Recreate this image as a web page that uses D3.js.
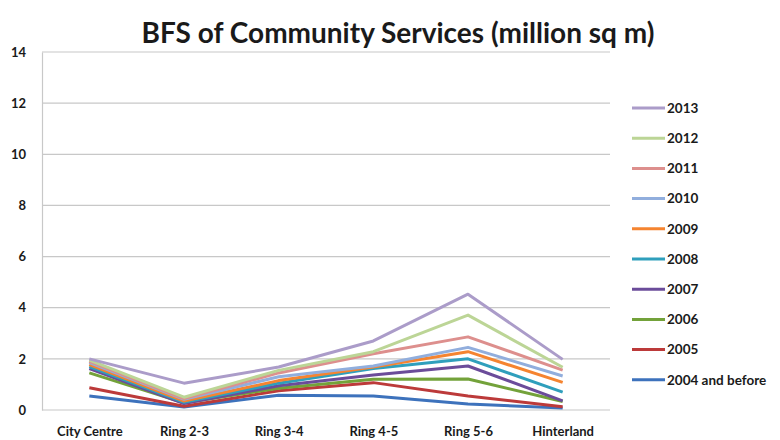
<!DOCTYPE html>
<html>
<head>
<meta charset="utf-8">
<script src="https://cdn.jsdelivr.net/npm/d3@7"></script>
<style>
  body { margin: 0; background: #fff; }
  svg { display: block; }
  text { font-family: Lato, "Open Sans", sans-serif; fill: #1a1a1a; }
</style>
</head>
<body>
<svg id="chart" width="780" height="440"></svg>
<script>
// Building floor space by ring zone, one line per completion year
const categories = ["City Centre", "Ring 2-3", "Ring 3-4", "Ring 4-5", "Ring 5-6", "Hinterland"];
const seriesNames = ["2013", "2012", "2011", "2010", "2009", "2008", "2007", "2006", "2005", "2004 and before"];
const seriesColors = ["#ab9cc9", "#bcd596", "#dd8f8d", "#91aedd", "#f58430", "#2f9fbc", "#6b4c9a", "#73a23a", "#bc3a3a", "#3d72bc"];
const v2013 = [2.0, 1.05, 1.68, 2.7, 4.53, 1.98];
const v2012 = [1.95, 0.5, 1.55, 2.28, 3.71, 1.67];
const v2011 = [1.9, 0.45, 1.45, 2.2, 2.86, 1.56];
const v2010 = [1.85, 0.42, 1.3, 1.72, 2.45, 1.33];
const v2009 = [1.78, 0.35, 1.15, 1.68, 2.28, 1.08];
const v2008 = [1.7, 0.3, 1.05, 1.62, 2.0, 0.7];
const v2007 = [1.62, 0.25, 0.95, 1.37, 1.72, 0.36];
const v2006 = [1.45, 0.28, 0.85, 1.2, 1.21, 0.33];
const v2005 = [0.87, 0.15, 0.75, 1.07, 0.55, 0.13];
const v2004 = [0.55, 0.12, 0.58, 0.55, 0.23, 0.08];
const seriesValues = [v2013, v2012, v2011, v2010, v2009, v2008, v2007, v2006, v2005, v2004];
const yTicks = [0, 2, 4, 6, 8, 10, 12, 14];
const title = "BFS of Community Services (million sq m)";

const svg = d3.select("#chart");
const plot = { left: 42, right: 610, top: 52, bottom: 410 };

const x = d3.scalePoint().domain(categories).range([plot.left, plot.right]).padding(0.5);
const y = d3.scaleLinear().domain([0, 14]).range([plot.bottom, plot.top]);

// Title
svg.append("text")
  .attr("x", 398).attr("y", 43)
  .attr("text-anchor", "middle")
  .style("font-size", "28px").style("font-weight", 700)
  .text(title);

// Horizontal gridlines
svg.append("g")
  .selectAll("line").data(yTicks).join("line")
  .attr("x1", plot.left).attr("x2", plot.right)
  .attr("y1", d => y(d)).attr("y2", d => y(d))
  .attr("stroke", "#c8c8c8").attr("stroke-width", 1.2);

// Y axis
const yAxis = svg.append("g")
  .attr("transform", `translate(${plot.left},0)`)
  .call(d3.axisLeft(y).tickValues(yTicks).tickSize(0).tickPadding(16));
yAxis.select(".domain").attr("stroke", "#c8c8c8").attr("stroke-width", 1.2);
yAxis.selectAll("text").style("font-size", "13px").style("font-weight", 700).attr("fill", "#1a1a1a");

// X axis
const xAxis = svg.append("g")
  .attr("transform", `translate(0,${plot.bottom})`)
  .call(d3.axisBottom(x).tickSize(0).tickPadding(17));
xAxis.select(".domain").remove();
xAxis.selectAll("text").style("font-size", "13px").style("font-weight", 700).attr("fill", "#1a1a1a");

// Series lines (drawn oldest first so newer years sit on top)
const line = d3.line().x((d, i) => x(categories[i])).y(d => y(d));
const series = seriesNames.map((name, i) => ({ name, color: seriesColors[i], values: seriesValues[i] }));
svg.append("g")
  .selectAll("path").data(series.slice().reverse()).join("path")
  .attr("d", d => line(d.values))
  .attr("fill", "none")
  .attr("stroke", d => d.color)
  .attr("stroke-width", 3)
  .attr("stroke-linejoin", "round");

// Legend
const legend = svg.append("g").attr("transform", "translate(632,108)");
const item = legend.selectAll("g").data(series).join("g")
  .attr("transform", (d, i) => `translate(0,${i * 30.2})`);
item.append("line")
  .attr("x1", 0).attr("x2", 33).attr("y1", 0).attr("y2", 0)
  .attr("stroke", d => d.color).attr("stroke-width", 3);
item.append("text")
  .attr("x", 35).attr("y", 0).attr("dy", "0.35em")
  .style("font-size", "13.5px").style("font-weight", 700)
  .text(d => d.name);
</script>
</body>
</html>
